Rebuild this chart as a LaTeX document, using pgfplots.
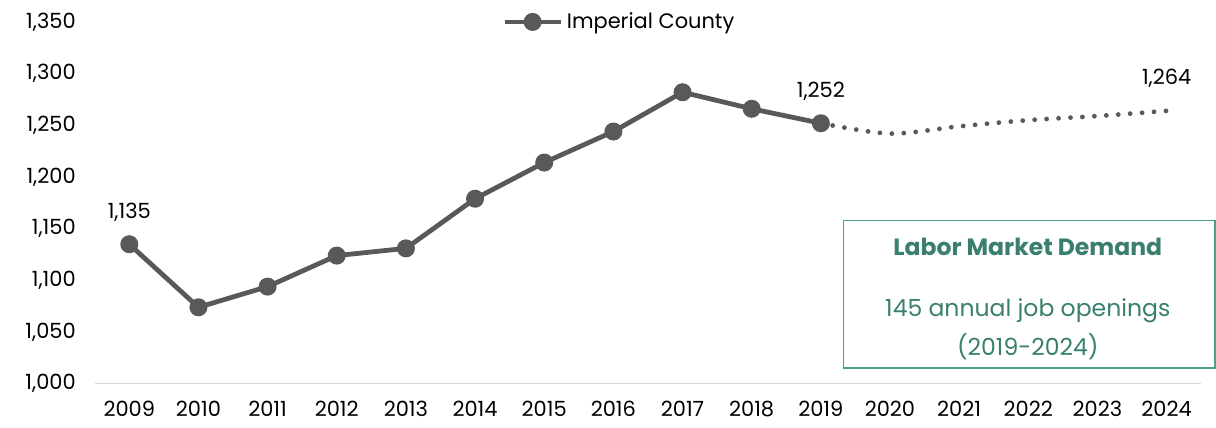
\documentclass[border=0pt]{standalone}
\usepackage{fontspec}
\setmainfont{Poppins}
\usepackage{pgfplots}
\pgfplotsset{compat=1.18}
\definecolor{lg}{HTML}{595959}
\definecolor{boxc}{HTML}{4E9C8B}
\definecolor{txtc}{HTML}{3A7F6E}
\begin{document}
\begin{tikzpicture}[font=\fontsize{10.5}{12}\selectfont]
\begin{axis}[
  at={(0,0)}, anchor=south west,
  scale only axis, width=555pt, height=181.5pt,
  xmin=2008.5, xmax=2024.5, ymin=1000, ymax=1350,
  xtick={2009,...,2024},
  ytick={1000,1050,...,1350},
  axis y line*=left, axis x line*=bottom,
  y axis line style={draw=none},
  x axis line style={draw=black!15, line width=0.6pt, -},
  xtick style={draw=none}, ytick style={draw=none},
  xticklabel style={/pgf/number format/1000 sep={}, yshift=-5pt},
  yticklabel style={/pgf/number format/1000 sep={,}, xshift=-6pt},
  /pgf/number format/assume math mode=true,
  clip=false,
  legend style={at={(0.475,1)}, anchor=center, draw=none, fill=none,
    font=\fontsize{10.5}{12}\selectfont, inner sep=0pt},
  legend cell align=left,
  legend image code/.code={
    \draw[lg, line width=2.4pt] (0pt,0pt) -- (28pt,0pt);
    \fill[lg] (14pt,0pt) circle (3.3pt);},
]
\addplot[lg, line width=2.4pt, mark=*, mark size=3.3pt, mark options={fill=lg, draw=lg}]
  coordinates {(2009,1135) (2010,1074) (2011,1094) (2012,1124) (2013,1131)
   (2014,1179) (2015,1214) (2016,1244) (2017,1282) (2018,1266) (2019,1252)};
\addlegendentry{Imperial County}
\addplot[lg, line width=2.4pt, line cap=round, dash pattern=on 0pt off 6pt, smooth, forget plot]
  coordinates {(2019,1252) (2020,1242) (2021,1249) (2022,1255) (2023,1259) (2024,1264)};
\addplot[draw=none, mark=none, forget plot, nodes near coords, point meta=explicit symbolic,
  nodes near coords style={anchor=south, yshift=8pt, text=black, font=\fontsize{10.5}{12}\selectfont}]
  table[meta=lab] {
x y lab
2009 1135 1{,}135
2019 1252 1{,}252
2024 1264 1{,}264
};
\end{axis}
\draw[boxc, line width=0.8pt] (375.5pt,8pt) rectangle (562pt,82pt);
\node[text=txtc, font=\fontsize{11.8}{14}\selectfont\bfseries] at (468pt,68.5pt) {Labor Market Demand};
\node[text=txtc, font=\fontsize{11.8}{14}\selectfont] at (468pt,36.5pt) {145 annual job openings};
\node[text=txtc, font=\fontsize{11.8}{14}\selectfont] at (468pt,18.5pt) {(2019-2024)};
\useasboundingbox (-47.5pt,-22pt) rectangle (560.5pt,192.5pt);
\end{tikzpicture}
\end{document}
